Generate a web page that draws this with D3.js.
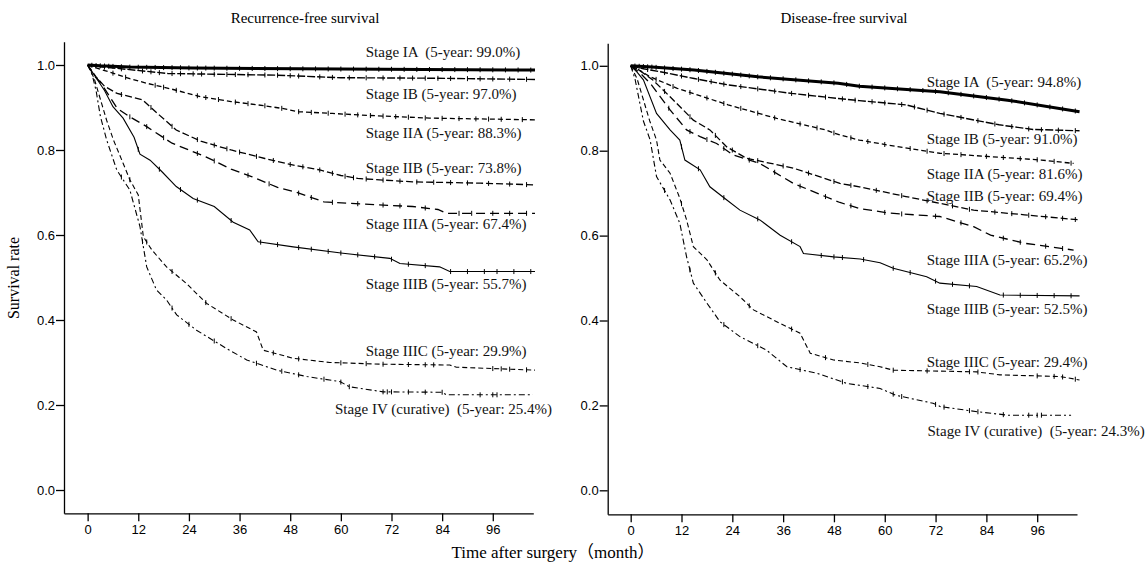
<!DOCTYPE html>
<html>
<head>
<meta charset="utf-8">
<title>Survival by stage</title>
<script src="https://d3js.org/d3.v7.min.js"></script>
<style>
  body { margin:0; background:#fff; }
  .tick text { font-family:"Liberation Sans", Arial, sans-serif; font-size:13px; fill:#000; }
  .lbl { font-family:"Liberation Serif", "Times New Roman", serif; font-size:15px; fill:#111; }
  .ttl { font-family:"Liberation Serif", "Times New Roman", "Noto Sans CJK JP", serif; font-size:15px; fill:#000; }
</style>
</head>
<body>
<script>
// tick values
var monthTicks = [0, 12, 24, 36, 48, 60, 72, 84, 96];
var rateTicks = [0, 0.2, 0.4, 0.6, 0.8, 1.0];

var stages = ["IA", "IB", "IIA", "IIB", "IIIA", "IIIB", "IIIC", "IV"];

// Recurrence-free survival, [month, rate]
var rfsIA = [[0,1],[3,0.998],[10,0.995],[25,0.993],[50,0.991],[70,0.990],[90,0.989],[106,0.988]];
var rfsIB = [[0,1],[3,0.996],[5,0.994],[19,0.980],[45,0.976],[60,0.970],[80,0.969],[106,0.966]];
var rfsIIA = [[0,1],[2,0.993],[5,0.984],[10,0.968],[14,0.957],[20,0.943],[27,0.925],[34,0.914],[42,0.904],[46,0.898],[50,0.890],[58,0.886],[65,0.882],[81,0.875],[106,0.871]];
var rfsIIB = [[0,1],[2,0.972],[4,0.950],[7,0.933],[13,0.918],[17,0.882],[21,0.847],[27,0.820],[34,0.800],[42,0.780],[48,0.766],[55,0.753],[60,0.740],[64,0.733],[77,0.725],[93,0.722],[106,0.718]];
var rfsIIIA = [[0,1],[1.5,0.975],[3,0.960],[7,0.898],[10,0.878],[14,0.855],[20,0.816],[28,0.784],[34,0.755],[39,0.737],[45,0.712],[49,0.702],[56,0.678],[65,0.673],[77,0.667],[83,0.660],[85,0.651],[106,0.651]];
var rfsIIIB = [[0,1],[2,0.97],[4,0.94],[6,0.902],[8.4,0.875],[11,0.83],[12.4,0.790],[14.8,0.776],[17.5,0.750],[21,0.714],[25,0.686],[30,0.667],[34.5,0.630],[38.4,0.612],[40.4,0.584],[48.7,0.572],[60.5,0.557],[71.6,0.545],[74,0.533],[83.4,0.525],[85.8,0.514],[106,0.514]];
var rfsIIIC = [[0,1],[1.5,0.97],[3,0.92],[4.5,0.87],[6.1,0.824],[8.4,0.769],[10,0.73],[12,0.694],[13.2,0.596],[15.2,0.565],[18.7,0.525],[23.4,0.486],[28.2,0.439],[34.5,0.400],[40,0.372],[41.6,0.329],[48.7,0.310],[57.4,0.300],[70,0.296],[85.8,0.294],[87.4,0.289],[106,0.282]];
var rfsIV = [[0,1],[1,0.98],[2,0.94],[3,0.88],[4.5,0.824],[6.9,0.753],[10,0.706],[12.4,0.620],[14,0.525],[16.3,0.471],[18.7,0.447],[21.1,0.412],[25.8,0.376],[32.9,0.333],[37.7,0.306],[44.8,0.282],[51.9,0.267],[59.8,0.255],[62,0.243],[70,0.231],[84,0.230],[85,0.224],[105.5,0.224]];

// Disease-free survival, [month, rate]
var dfsIA = [[0,1],[5,0.997],[15,0.990],[30,0.974],[49,0.959],[54,0.952],[73,0.939],[89,0.919],[106,0.892]];
var dfsIB = [[0,1],[3,0.993],[7,0.986],[15,0.970],[23,0.955],[38,0.935],[49,0.923],[54,0.918],[65,0.908],[73,0.888],[87,0.861],[95,0.850],[106,0.847]];
var dfsIIA = [[0,1],[2,0.99],[4.6,0.974],[11,0.947],[23,0.908],[34.5,0.876],[46,0.849],[49.4,0.837],[54,0.825],[61,0.813],[73,0.794],[85,0.786],[97,0.778],[104.6,0.770]];
var dfsIIB = [[0,1],[2,0.99],[5.3,0.966],[9.3,0.927],[14.8,0.872],[18.7,0.849],[22.7,0.809],[27.4,0.782],[38.4,0.759],[49.4,0.723],[54,0.715],[65,0.692],[81,0.660],[93,0.649],[106,0.637]];
var dfsIIIA = [[0,1],[2,0.985],[4.6,0.959],[9.3,0.896],[13.2,0.849],[16.4,0.833],[20.3,0.817],[24.2,0.790],[30.5,0.770],[38.4,0.723],[49.4,0.678],[54,0.664],[61,0.653],[73,0.645],[81,0.621],[85,0.601],[93,0.582],[104.6,0.566]];
var dfsIIIB = [[0,1],[1.5,0.985],[3,0.967],[6.1,0.888],[9.3,0.849],[11.6,0.825],[12.8,0.778],[16.4,0.755],[18.7,0.715],[22.7,0.684],[25.8,0.660],[30.5,0.637],[35.3,0.601],[40,0.574],[40.8,0.558],[47.9,0.550],[54.2,0.545],[58.9,0.536],[62,0.523],[69.9,0.503],[73,0.488],[81.7,0.480],[87.2,0.460],[106,0.458]];
var dfsIIIC = [[0,1],[1.5,0.97],[3,0.92],[4.5,0.87],[6.1,0.825],[6.9,0.778],[9.3,0.747],[11.6,0.688],[13.2,0.637],[14.8,0.574],[18,0.543],[21.1,0.495],[25.8,0.456],[29,0.425],[35.3,0.393],[40,0.370],[42.4,0.323],[47.9,0.307],[54.2,0.300],[58.9,0.291],[62,0.283],[81.7,0.279],[87.2,0.272],[101.4,0.268],[106,0.260]];
var dfsIV = [[0,1],[1,0.97],[2,0.92],[3,0.87],[4.6,0.825],[6.1,0.739],[9.3,0.684],[11.6,0.629],[13.2,0.550],[14.8,0.488],[18,0.441],[21.1,0.397],[25.8,0.362],[32.1,0.330],[36.9,0.291],[43.9,0.276],[51,0.252],[58.9,0.240],[62.6,0.224],[71.4,0.205],[73.2,0.197],[82,0.185],[89.1,0.177],[104,0.177]];

// censored cases (months)
var rfsCensIA = [1,2,3,4,5,6,8,10,12,14,16,18,20,22,24,26,28,30,33,36,39,42,45,48,51,54,57,60,63,66,69,72,75,78,81,84,87,90,93,96,99,102,105];
var rfsCensIB = [4,8,13,15,17,20,22,25,27,30,33,35,38,42,45,48,50,55,58,62,66,70,74,77,80,83,86,90,93,96,100,104];
var rfsCensIIA = [6,9,16,18,21,26,28,31,35,38,42,46,50,53,57,61,64,67,70,73,76,80,84,88,92,95,98,103];
var rfsCensIIB = [8,15,20,26,30,33,36,40,44,48,51,55,58,61,63,66,70,74,78,82,86,90,95,100,104];
var rfsCensIIIA = [10,14,18,26,30,38,43,50,53,58,64,70,74,80,88,91,96,100,104];
var rfsCensIIIB = [12,17,22,26,34,41,45,50,53,57,60,64,68,72,76,80,86,90,94,97,101,105];
var rfsCensIIIC = [10,14,20,28,34,44,50,60,66,70,76,80,82,96,98,100,104];
var rfsCensIV = [8,13,20,24,30,40,46,50,56,60,62,70,71,72,76,80,84,93,96,97];

var dfsCensIA = [1,2,3,4,5,6,8,10,12,14,16,18,20,22,24,26,28,30,33,36,39,42,45,48,51,54,57,60,63,66,69,72,75,78,81,84,87,90,93,96,99,102,105];
var dfsCensIB = [4,8,12,16,19,22,26,30,34,38,42,46,50,53,57,60,64,67,70,74,78,82,86,90,94,97,101,105];
var dfsCensIIA = [6,10,14,18,22,26,30,34,40,44,48,52,56,60,66,70,74,78,84,88,92,96,100,104];
var dfsCensIIB = [8,14,20,24,30,36,42,48,52,58,64,70,76,80,86,90,94,98,102,105];
var dfsCensIIIA = [9,14,18,22,28,34,40,46,52,60,64,72,78,88,92,98,102];
var dfsCensIIIB = [12,16,22,30,38,45,48,50,55,62,66,72,76,80,88,92,96,100,104];
var dfsCensIIIC = [12,20,28,38,46,56,62,70,80,82,96,100,102,105];
var dfsCensIV = [8,14,22,30,40,50,56,62,64,72,74,80,82,88,94,96,97];

// curve labels
var rfsLabels = ["Stage IA  (5-year: 99.0%)", "Stage IB (5-year: 97.0%)", "Stage IIA (5-year: 88.3%)",
  "Stage IIB (5-year: 73.8%)", "Stage IIIA (5-year: 67.4%)", "Stage IIIB (5-year: 55.7%)",
  "Stage IIIC (5-year: 29.9%)", "Stage IV (curative)  (5-year: 25.4%)"];
var dfsLabels = ["Stage IA  (5-year: 94.8%)", "Stage IB (5-year: 91.0%)", "Stage IIA (5-year: 81.6%)",
  "Stage IIB (5-year: 69.4%)", "Stage IIIA (5-year: 65.2%)", "Stage IIIB (5-year: 52.5%)",
  "Stage IIIC (5-year: 29.4%)", "Stage IV (curative)  (5-year: 24.3%)"];

// label anchors in data units [month, rate]
var rfsLabelAt = [[65.9,1.018],[65.9,0.919],[65.9,0.829],[65.9,0.745],[65.9,0.613],[65.9,0.472],[65.9,0.315],[58.6,0.178]];
var dfsLabelAt = [[69.9,0.951],[69.9,0.815],[69.9,0.734],[69.9,0.681],[69.9,0.530],[69.9,0.416],[69.9,0.290],[70.1,0.127]];

// line look per stage
var dashes = [null, "8,2", "5,3", "7,3", "9,5", null, "5,3", "6,3,2,3"];
var widths = [3, 1.4, 1.3, 1.3, 1.3, 1.1, 1.1, 1.1];

var svg = d3.select("body").append("svg")
  .attr("width", 1145)
  .attr("height", 583);

function panel(cfg) {
  var x = d3.scaleLinear().domain(cfg.xDom).range(cfg.xRange);
  var y = d3.scaleLinear().domain(cfg.yDom).range(cfg.yRange);

  var g = svg.append("g");

  // axes
  g.append("g")
    .attr("transform", "translate(0," + cfg.yRange[0] + ")")
    .call(d3.axisBottom(x).tickValues(monthTicks).tickSize(8).tickSizeOuter(0).tickPadding(3))
    .call(function(a) { a.select(".domain").attr("stroke-width", 1.3); a.selectAll("line").attr("stroke-width", 1.3); });

  g.append("g")
    .attr("transform", "translate(" + cfg.xRange[0] + ",0)")
    .call(d3.axisLeft(y).tickValues(rateTicks).tickFormat(d3.format(".1f")).tickSize(8).tickSizeOuter(0).tickPadding(1))
    .call(function(a) { a.select(".domain").attr("stroke-width", 1.3); a.selectAll("line").attr("stroke-width", 1.3); });

  var line = d3.line()
    .x(function(d) { return x(d[0]); })
    .y(function(d) { return y(d[1]); });

  cfg.series.forEach(function(s, i) {
    g.append("path")
      .datum(s)
      .attr("fill", "none")
      .attr("stroke", "#000")
      .attr("stroke-width", widths[i])
      .attr("stroke-dasharray", dashes[i])
      .attr("d", line);

    // censor marks sit on the curve
    var bis = d3.bisector(function(d) { return d[0]; }).left;
    cfg.cens[i].forEach(function(m) {
      var k = Math.max(1, Math.min(s.length - 1, bis(s, m)));
      var a = s[k - 1], b = s[k];
      var v = a[1] + (b[1] - a[1]) * (m - a[0]) / (b[0] - a[0]);
      g.append("line")
        .attr("x1", x(m)).attr("x2", x(m))
        .attr("y1", y(v) - 2.5).attr("y2", y(v) + 2.5)
        .attr("stroke", "#000")
        .attr("stroke-width", 1);
    });

    g.append("text")
      .attr("class", "lbl")
      .attr("x", x(cfg.labelAt[i][0]))
      .attr("y", y(cfg.labelAt[i][1]))
      .style("white-space", "pre")
      .text(cfg.labels[i]);
  });

  g.append("text")
    .attr("class", "ttl")
    .attr("x", cfg.titleX)
    .attr("y", 23)
    .attr("text-anchor", "middle")
    .text(cfg.title);
}

panel({
  xDom: [-5.6, 105.6], xRange: [64, 533.3],
  yDom: [-0.0548, 1.0548], yRange: [513.3, 41.7],
  series: [rfsIA, rfsIB, rfsIIA, rfsIIB, rfsIIIA, rfsIIIB, rfsIIIC, rfsIV],
  cens: [rfsCensIA, rfsCensIB, rfsCensIIA, rfsCensIIB, rfsCensIIIA, rfsCensIIIB, rfsCensIIIC, rfsCensIV],
  labels: rfsLabels, labelAt: rfsLabelAt,
  title: "Recurrence-free survival", titleX: 305
});

panel({
  xDom: [-5.43, 105.4], xRange: [607.7, 1077],
  yDom: [-0.0565, 1.053], yRange: [514.3, 43.3],
  series: [dfsIA, dfsIB, dfsIIA, dfsIIB, dfsIIIA, dfsIIIB, dfsIIIC, dfsIV],
  cens: [dfsCensIA, dfsCensIB, dfsCensIIA, dfsCensIIB, dfsCensIIIA, dfsCensIIIB, dfsCensIIIC, dfsCensIV],
  labels: dfsLabels, labelAt: dfsLabelAt,
  title: "Disease-free survival", titleX: 844
});

// shared axis titles
svg.append("text")
  .attr("class", "ttl")
  .attr("x", 553).attr("y", 558)
  .attr("text-anchor", "middle")
  .style("font-size", "17px")
  .text("Time after surgery（month）");

svg.append("text")
  .attr("class", "ttl")
  .attr("transform", "translate(19,278) rotate(-90)")
  .attr("text-anchor", "middle")
  .style("font-size", "16px")
  .text("Survival rate");
</script>
</body>
</html>
